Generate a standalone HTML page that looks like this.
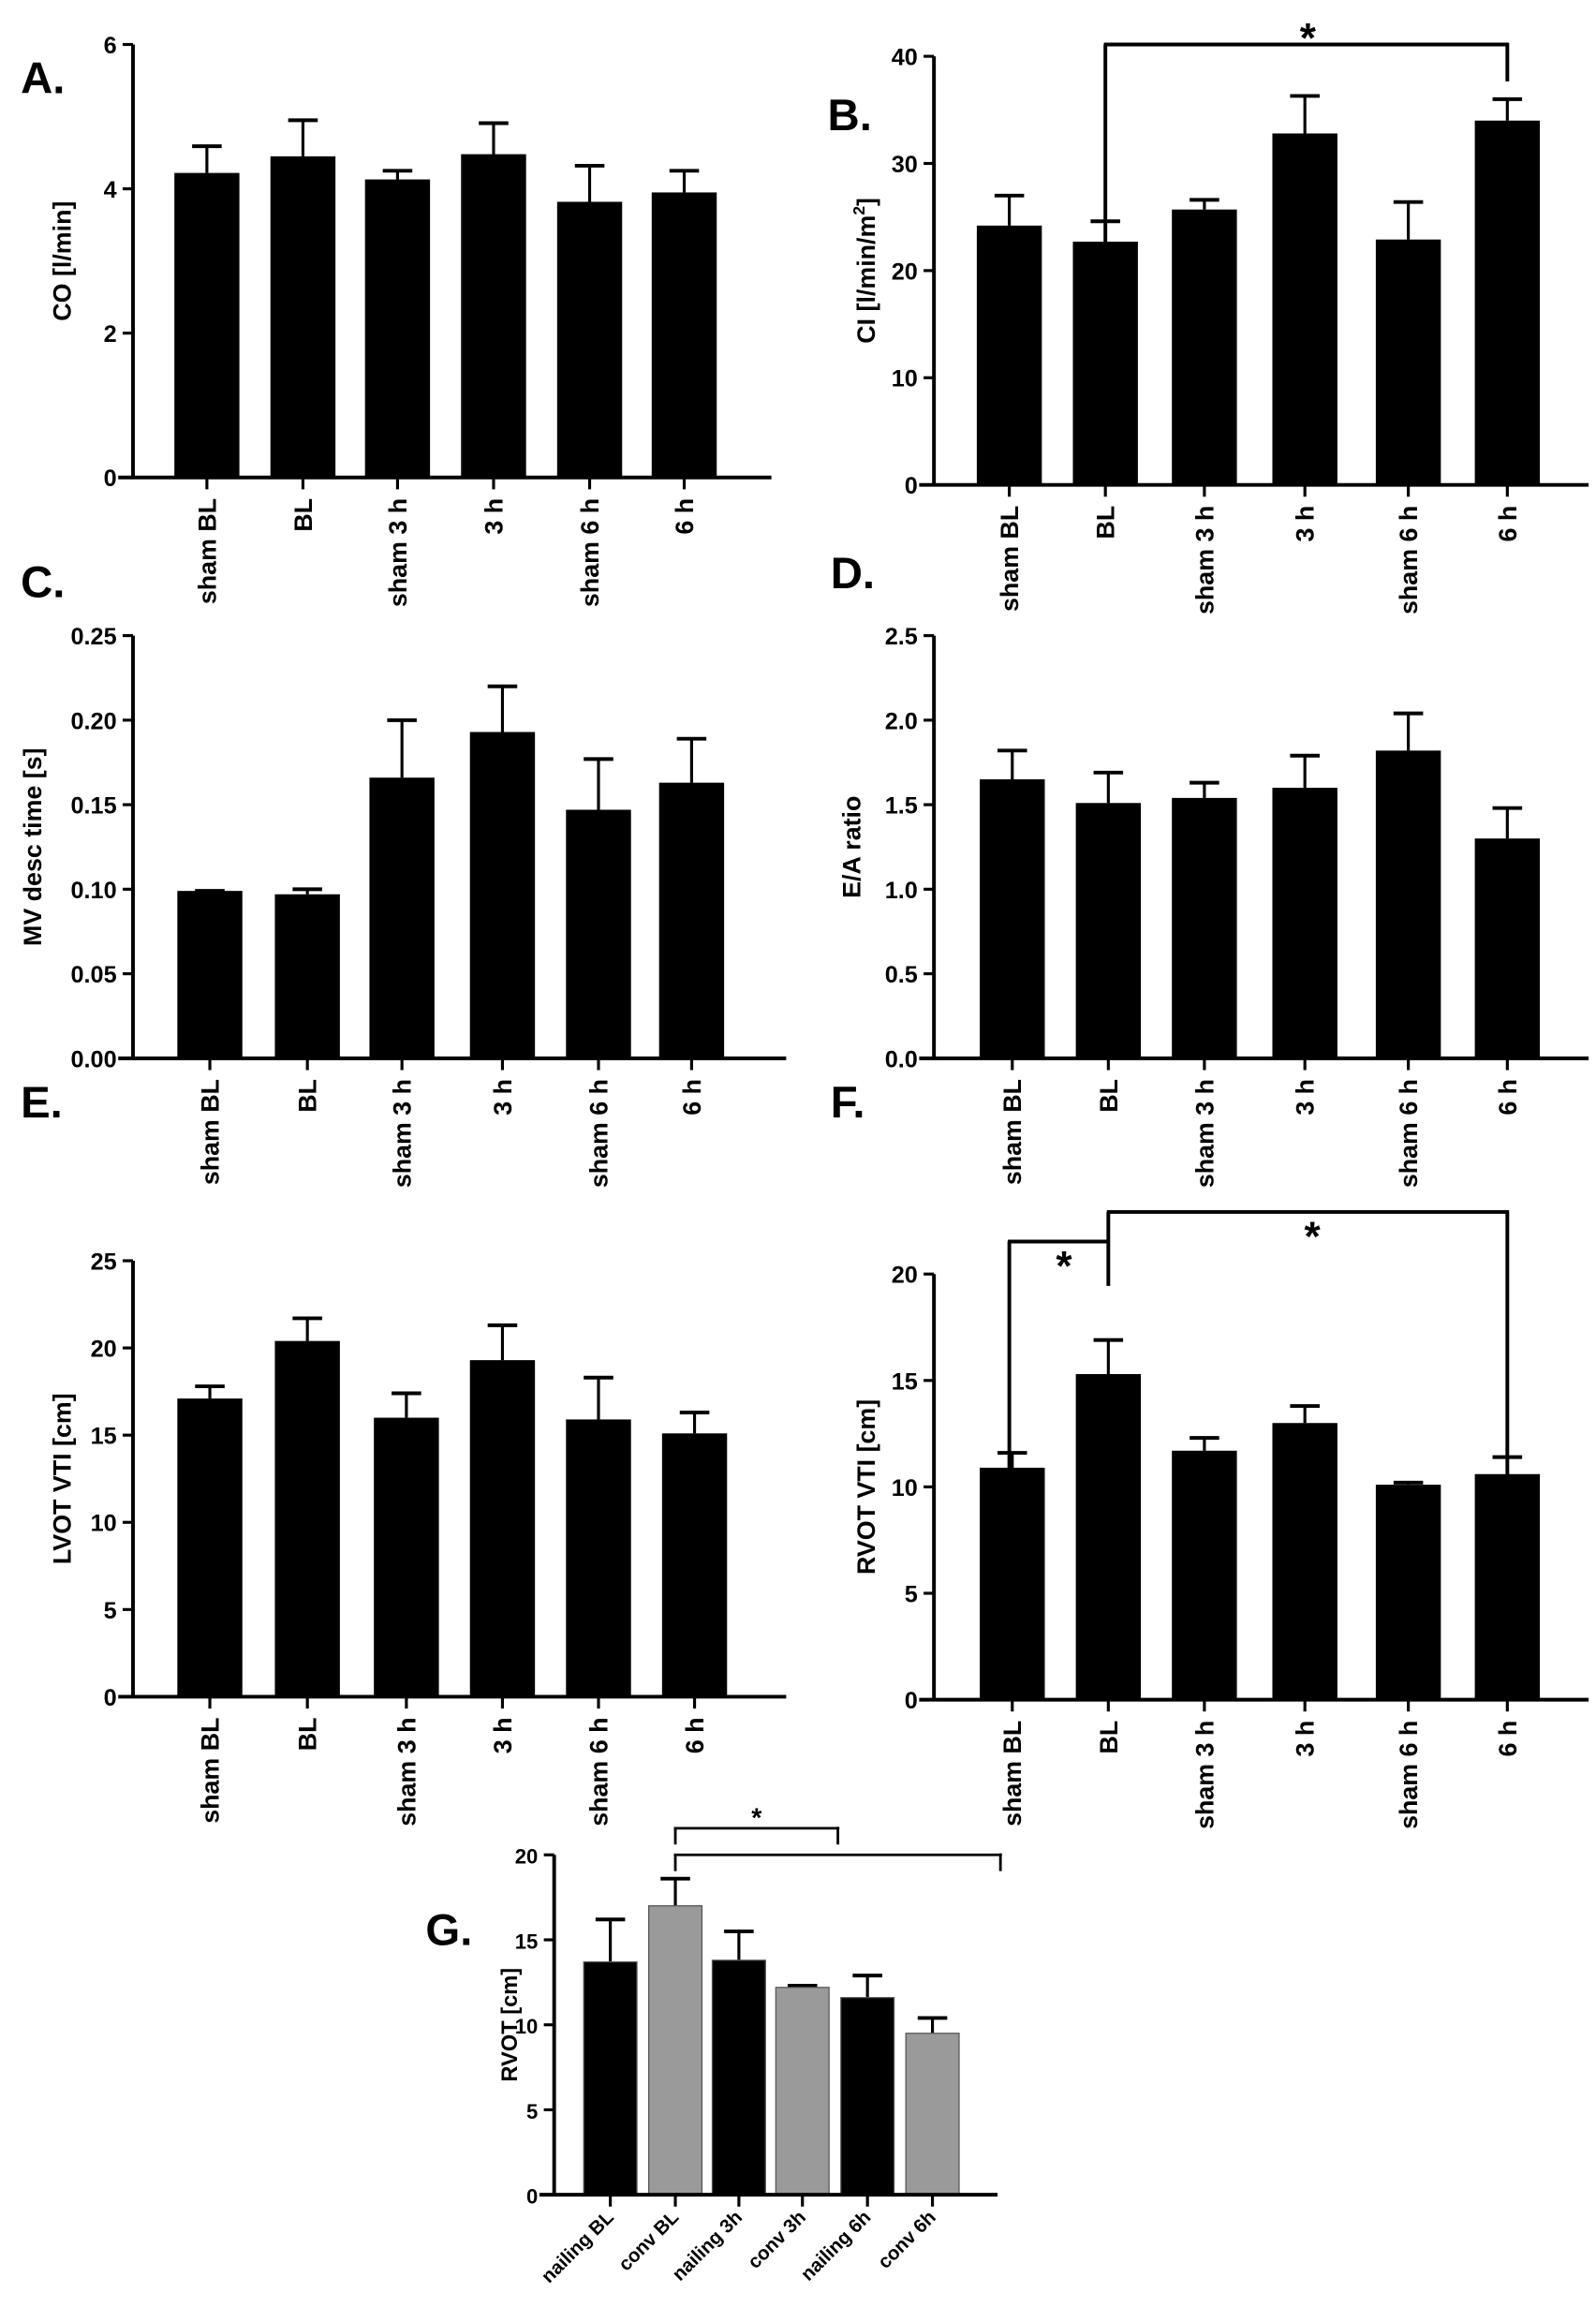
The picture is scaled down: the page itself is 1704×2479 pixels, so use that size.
<!DOCTYPE html>
<html><head><meta charset="utf-8"><style>
html,body{margin:0;padding:0;background:#fff;}
svg{display:block;}
text{font-family:"Liberation Sans",sans-serif;font-weight:bold;fill:#000;}
</style></head><body>
<svg id="s" width="1704" height="2479" viewBox="0 0 1080 1571" xmlns="http://www.w3.org/2000/svg"></svg>
<script>
const S=document.getElementById('s');let h='';
function L(x1,y1,x2,y2,w){h+=`<line x1="${x1}" y1="${y1}" x2="${x2}" y2="${y2}" stroke="#000" stroke-width="${w||2.5}"/>`;}
function T(x,y,t,sz,anc,rot,extra){h+=`<text x="${x}" y="${y}" font-size="${sz}" text-anchor="${anc||'start'}" ${rot?`transform="rotate(${rot} ${x} ${y})"`:''} ${extra||''}>${t}</text>`;}
const labs=["sham BL","BL","sham 3 h","3 h","sham 6 h","6 h"];
function panel(o){
 const {ax,y0,ytop,ymax,ticks,fmt,xs,vals,errs,xend,title,bw,fs}=o;
 const sc=(y0-ytop)/ymax;
 for(let i=0;i<xs.length;i++){
  const top=y0-vals[i]*sc, et=y0-(vals[i]+errs[i])*sc;
  L(xs[i],top,xs[i],et,2);L(xs[i]-10,et,xs[i]+10,et,2.5);
  h+=`<rect x="${xs[i]-bw/2}" y="${top}" width="${bw}" height="${y0-top}" fill="${o.cols?o.cols[i]:'#000'}" stroke="${o.cols?'#555':'none'}" stroke-width="0.8"/>`;
  L(xs[i],y0,xs[i],y0+8,2);
  if(o.small) T(xs[i]+3,y0+16,o.labs[i],13,'end',-45);
  else T(xs[i]+6,y0+14,labs[i],fs||17,'end',-90);
 }
 L(ax,ytop,ax,y0+1,2.5);L(ax-10,y0,xend,y0,2.5);
 ticks.forEach(v=>{const y=y0-v*sc;L(ax-7,y,ax,y,2);T(ax-11,y+6,fmt(v),o.small?14:16,'end');});
 T(o.tx,(y0+ytop)/2,title,o.small?15:17,'middle',-90);
}
// A
panel({ax:90,y0:323,ytop:30,ymax:6,ticks:[0,2,4,6],fmt:v=>v,xs:[140,205,269,334,399,463],vals:[4.22,4.45,4.13,4.48,3.82,3.95],errs:[.37,.5,.12,.43,.5,.3],xend:522,title:"CO [l/min]",tx:48,bw:44});
T(14,63,"A.",30);
// B
panel({ax:632,y0:328,ytop:38,ymax:40,ticks:[0,10,20,30,40],fmt:v=>v,xs:[683,748,815,883,953,1020],vals:[24.2,22.7,25.7,32.8,22.9,34.0],errs:[2.8,1.9,0.9,3.5,3.5,2.0],xend:1075,title:"CI [l/min/m<tspan dy='-7' font-size='11'>2</tspan><tspan dy='7'>]</tspan>",tx:592,bw:44});
T(560,88,"B.",30);
L(748,200,748,30);L(747,30,1021,30);L(1020,29,1020,55);T(885,35,"*",28,'middle');
// C
panel({ax:90,y0:716,ytop:430,ymax:0.25,ticks:[0,.05,.1,.15,.2,.25],fmt:v=>v.toFixed(2),xs:[142,208,272,340,405,468],vals:[.099,.097,.166,.193,.147,.163],errs:[0,.003,.034,.027,.03,.026],xend:532,title:"MV desc time [s]",tx:28,bw:44});
T(14,404,"C.",30);
// D
panel({ax:632,y0:716,ytop:430,ymax:2.5,ticks:[0,.5,1,1.5,2,2.5],fmt:v=>v.toFixed(1),xs:[685,750,815,883,953,1020],vals:[1.65,1.51,1.54,1.60,1.82,1.30],errs:[.17,.18,.09,.19,.22,.18],xend:1075,title:"E/A ratio",tx:582,bw:44});
T(562,398,"D.",30);
// E
panel({ax:90,y0:1148,ytop:853,ymax:25,ticks:[0,5,10,15,20,25],fmt:v=>v,xs:[142,208,275,340,405,470],vals:[17.1,20.4,16.0,19.3,15.9,15.1],errs:[.7,1.3,1.4,2.0,2.4,1.2],xend:532,title:"LVOT VTI [cm]",tx:48,bw:44});
T(14,756,"E.",30);
// F
panel({ax:632,y0:1150,ytop:862,ymax:20,ticks:[0,5,10,15,20],fmt:v=>v,xs:[685,750,815,883,953,1020],vals:[10.9,15.3,11.7,13.0,10.1,10.6],errs:[.7,1.6,.6,.8,.1,.8],xend:1075,title:"RVOT VTI [cm]",tx:592,bw:44});
T(562,756,"F.",30);
L(683,1090,683,840);L(682,840,751,840);L(750,870,750,820);L(749,820,1021,820);L(1020,819,1020,1088);
T(720,866,"*",28,'middle');T(888,846,"*",28,'middle');
// G
panel({ax:375,y0:1485,ytop:1255,ymax:20,ticks:[0,5,10,15,20],fmt:v=>v,xs:[413,457,500,543,587,631],vals:[13.7,17.0,13.8,12.2,11.6,9.5],errs:[2.5,1.6,1.7,.1,1.3,.9],xend:675,title:"RVOT [cm]",tx:350,bw:36,small:true,
 labs:["nailing BL","conv BL","nailing 3h","conv 3h","nailing 6h","conv 6h"],cols:["#000","#9a9a9a","#000","#9a9a9a","#000","#9a9a9a"]});
T(288,1316,"G.",30);
L(457,1248,457,1237,1.8);L(456,1237,568,1237,1.8);L(567,1236,567,1248,1.8);
L(457,1266,457,1255,1.8);L(456,1255,678,1255,1.8);L(677,1254,677,1266,1.8);
T(512,1236,"*",18,'middle');
S.innerHTML=h;
</script>
</body></html>
